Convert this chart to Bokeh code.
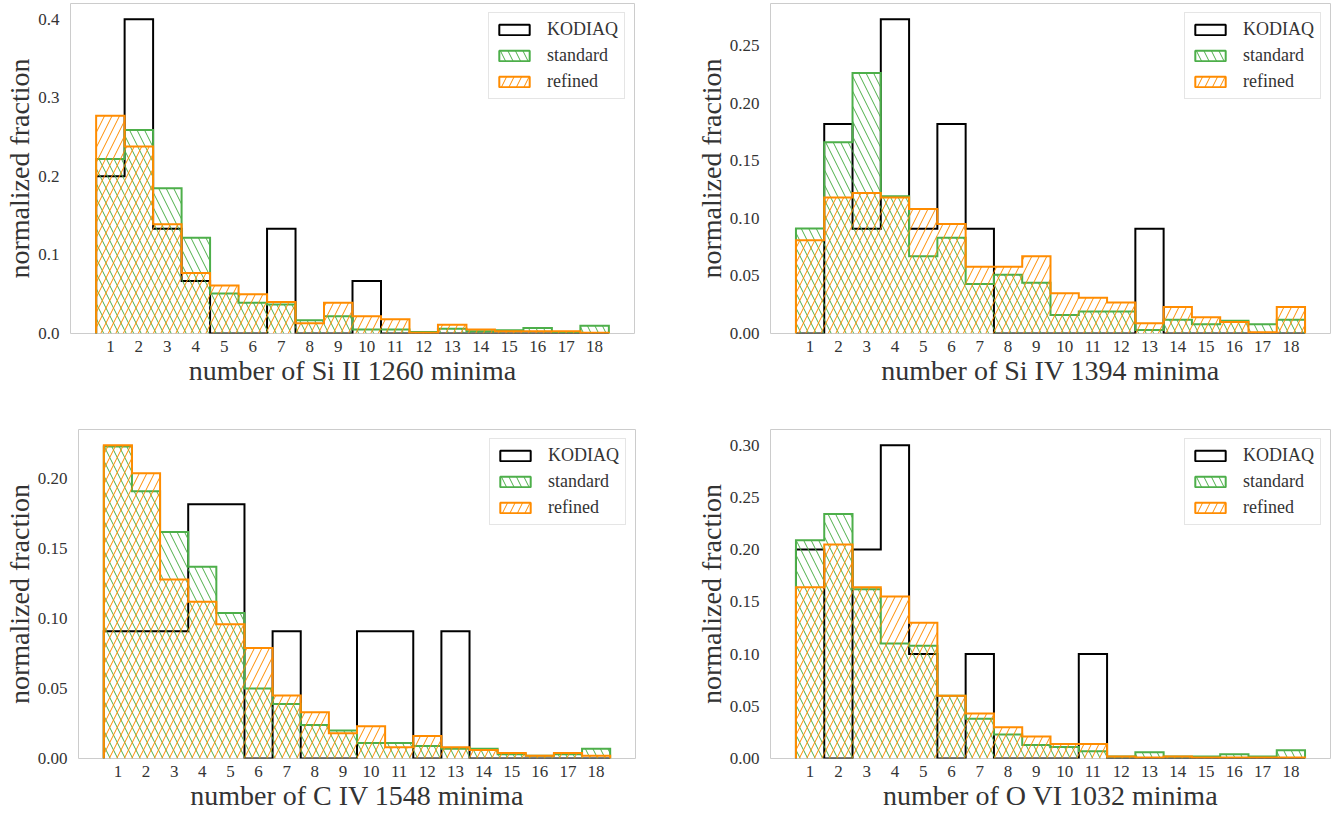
import math
from bokeh.plotting import figure
from bokeh.models import Range1d, FixedTicker, PrintfTickFormatter, Legend, LegendItem
from bokeh.layouts import column, row
from bokeh.embed import file_html
from bokeh.resources import INLINE

# ---------------- data ----------------
bins = list(range(1, 19))

siII_kodiaq = [0.2, 0.4, 0.1333, 0.0667, 0, 0, 0.1333, 0, 0, 0.0667, 0, 0, 0, 0, 0, 0, 0, 0]
siII_standard = [0.222, 0.259, 0.185, 0.122, 0.051, 0.039, 0.037, 0.017, 0.022, 0.005, 0.005, 0.002, 0.006, 0.003, 0.004, 0.007, 0.002, 0.010]
siII_refined = [0.277, 0.238, 0.139, 0.077, 0.061, 0.050, 0.040, 0.013, 0.039, 0.022, 0.018, 0.001, 0.011, 0.005, 0.003, 0.003, 0.003, 0.001]

siIV_kodiaq = [0, 0.1818, 0.0909, 0.2727, 0.0909, 0.1818, 0.0909, 0, 0, 0, 0, 0, 0.0909, 0, 0, 0, 0, 0]
siIV_standard = [0.091, 0.166, 0.226, 0.119, 0.067, 0.083, 0.043, 0.051, 0.044, 0.016, 0.019, 0.019, 0.003, 0.012, 0.008, 0.011, 0.008, 0.012]
siIV_refined = [0.081, 0.118, 0.122, 0.118, 0.108, 0.095, 0.058, 0.058, 0.067, 0.035, 0.031, 0.027, 0.009, 0.023, 0.014, 0.010, 0.001, 0.023]

cIV_kodiaq = [0.0909, 0.0909, 0.0909, 0.1818, 0.1818, 0, 0.0909, 0, 0, 0.0909, 0.0909, 0, 0.0909, 0, 0, 0, 0, 0]
cIV_standard = [0.223, 0.191, 0.162, 0.137, 0.104, 0.050, 0.039, 0.024, 0.020, 0.011, 0.011, 0.009, 0.007, 0.007, 0.003, 0.002, 0.003, 0.007]
cIV_refined = [0.224, 0.204, 0.128, 0.112, 0.096, 0.079, 0.045, 0.033, 0.018, 0.023, 0.008, 0.016, 0.008, 0.006, 0.004, 0.002, 0.004, 0.002]

oVI_kodiaq = [0.2, 0, 0.2, 0.3, 0.1, 0, 0.1, 0, 0, 0, 0.1, 0, 0, 0, 0, 0, 0, 0]
oVI_standard = [0.209, 0.234, 0.162, 0.110, 0.108, 0.060, 0.038, 0.023, 0.013, 0.011, 0.007, 0.002, 0.006, 0.002, 0.002, 0.004, 0.002, 0.008]
oVI_refined = [0.164, 0.205, 0.164, 0.155, 0.130, 0.060, 0.043, 0.030, 0.021, 0.014, 0.014, 0.002, 0.001, 0.002, 0.001, 0.001, 0.001, 0.001]

ticks_siII = [0.0, 0.1, 0.2, 0.3, 0.4]
ticks_siIV = [0.0, 0.05, 0.10, 0.15, 0.20, 0.25]
ticks_cIV = [0.0, 0.05, 0.10, 0.15, 0.20]
ticks_oVI = [0.0, 0.05, 0.10, 0.15, 0.20, 0.25, 0.30]

series_names = ["KODIAQ", "standard", "refined"]

# ---------------- style ----------------
FONT = "Liberation Serif"
TXT = "#333333"
GREEN = "#4daf4a"
ORANGE = "#ff8c00"
BLACK = "#000000"
SPINE = "#cccccc"
HSCALE = 15


def edges_of(b):
    return [v - 0.5 for v in b] + [b[-1] + 0.5]


def outline(b, vals):
    e = edges_of(b)
    xs, ys = [e[0]], [0.0]
    for i, v in enumerate(vals):
        xs += [e[i], e[i + 1]]
        ys += [v, v]
    xs.append(e[-1])
    ys.append(0.0)
    return xs, ys


def panel(xlabel, kod, std, ref, yticks, fmt, ml, mr, mt, mb, fw, fh):
    ymax = max(max(kod), max(std), max(ref)) * 1.05
    p = figure(frame_width=fw, frame_height=fh, output_backend="svg",
               toolbar_location=None,
               x_range=Range1d(bins[0] - 1.4, bins[-1] + 1.4),
               y_range=Range1d(0, ymax),
               min_border_left=ml, min_border_right=mr,
               min_border_top=mt, min_border_bottom=mb)
    p.grid.visible = False
    p.outline_line_color = SPINE
    p.outline_line_width = 1
    p.background_fill_color = "white"
    p.border_fill_color = "white"

    e = edges_of(bins)
    # KODIAQ step outline
    xs, ys = outline(bins, kod)
    p.line(xs, ys, line_color=BLACK, line_width=2, line_join="miter")
    # standard
    p.quad(left=e[:-1], right=e[1:], bottom=[0] * len(std), top=std,
           fill_color=None, line_color=None, hatch_pattern="\\",
           hatch_color=GREEN, hatch_scale=HSCALE, hatch_weight=1)
    xs, ys = outline(bins, std)
    p.line(xs, ys, line_color=GREEN, line_width=2, line_join="miter")
    # refined
    p.quad(left=e[:-1], right=e[1:], bottom=[0] * len(ref), top=ref,
           fill_color=None, line_color=None, hatch_pattern="/",
           hatch_color=ORANGE, hatch_scale=HSCALE, hatch_weight=1)
    xs, ys = outline(bins, ref)
    p.line(xs, ys, line_color=ORANGE, line_width=2, line_join="miter")

    # legend proxies
    nan = [float("nan")]
    r1 = p.quad(left=nan, right=nan, top=nan, bottom=nan, fill_color=None,
                line_color=BLACK, line_width=2)
    r2 = p.quad(left=nan, right=nan, top=nan, bottom=nan, fill_color=None,
                line_color=GREEN, line_width=2, hatch_pattern="\\",
                hatch_color=GREEN, hatch_scale=HSCALE, hatch_weight=1)
    r3 = p.quad(left=nan, right=nan, top=nan, bottom=nan, fill_color=None,
                line_color=ORANGE, line_width=2, hatch_pattern="/",
                hatch_color=ORANGE, hatch_scale=HSCALE, hatch_weight=1)
    leg = Legend(items=[LegendItem(label=series_names[0], renderers=[r1]),
                        LegendItem(label=series_names[1], renderers=[r2]),
                        LegendItem(label=series_names[2], renderers=[r3])],
                 location="top_right")
    leg.label_text_font = FONT
    leg.label_text_font_size = "18px"
    leg.label_text_color = TXT
    leg.glyph_width = 38
    leg.glyph_height = 13
    leg.label_height = 20
    leg.spacing = 5
    leg.padding = 6
    leg.margin = 9
    leg.label_standoff = 14
    leg.border_line_color = SPINE
    leg.border_line_width = 1
    leg.background_fill_color = "white"
    leg.background_fill_alpha = 0.8
    p.add_layout(leg)

    p.xaxis.ticker = FixedTicker(ticks=bins)
    p.yaxis.ticker = FixedTicker(ticks=yticks)
    p.yaxis.formatter = PrintfTickFormatter(format=fmt)
    p.xaxis.axis_label = xlabel
    p.yaxis.axis_label = "normalized fraction"
    for ax in (p.xaxis, p.yaxis):
        ax.axis_line_color = None
        ax.major_tick_line_color = None
        ax.minor_tick_line_color = None
        ax.major_label_text_font = FONT
        ax.major_label_text_font_size = "17px"
        ax.major_label_text_color = TXT
        ax.axis_label_text_font = FONT
        ax.axis_label_text_font_size = "28px"
        ax.axis_label_text_font_style = "normal"
        ax.axis_label_text_color = TXT
        ax.axis_label_standoff = 0
    p.xaxis.major_label_standoff = 1
    p.yaxis.major_label_standoff = 5
    return p


p1 = panel("number of Si II 1260 minima", siII_kodiaq, siII_standard, siII_refined,
           ticks_siII, "%.1f", 70, 56, 3, 94, 564, 330)
p2 = panel("number of Si IV 1394 minima", siIV_kodiaq, siIV_standard, siIV_refined,
           ticks_siIV, "%.2f", 80, 5, 3, 94, 560, 330)
p3 = panel("number of C IV 1548 minima", cIV_kodiaq, cIV_standard, cIV_refined,
           ticks_cIV, "%.2f", 78, 55, 2, 50, 557, 329)
p4 = panel("number of O VI 1032 minima", oVI_kodiaq, oVI_standard, oVI_refined,
           ticks_oVI, "%.2f", 80, 5, 2, 50, 560, 329)

layout = column(row(p1, p2), row(p3, p4))
open("out.html", "w").write(file_html(layout, INLINE))
